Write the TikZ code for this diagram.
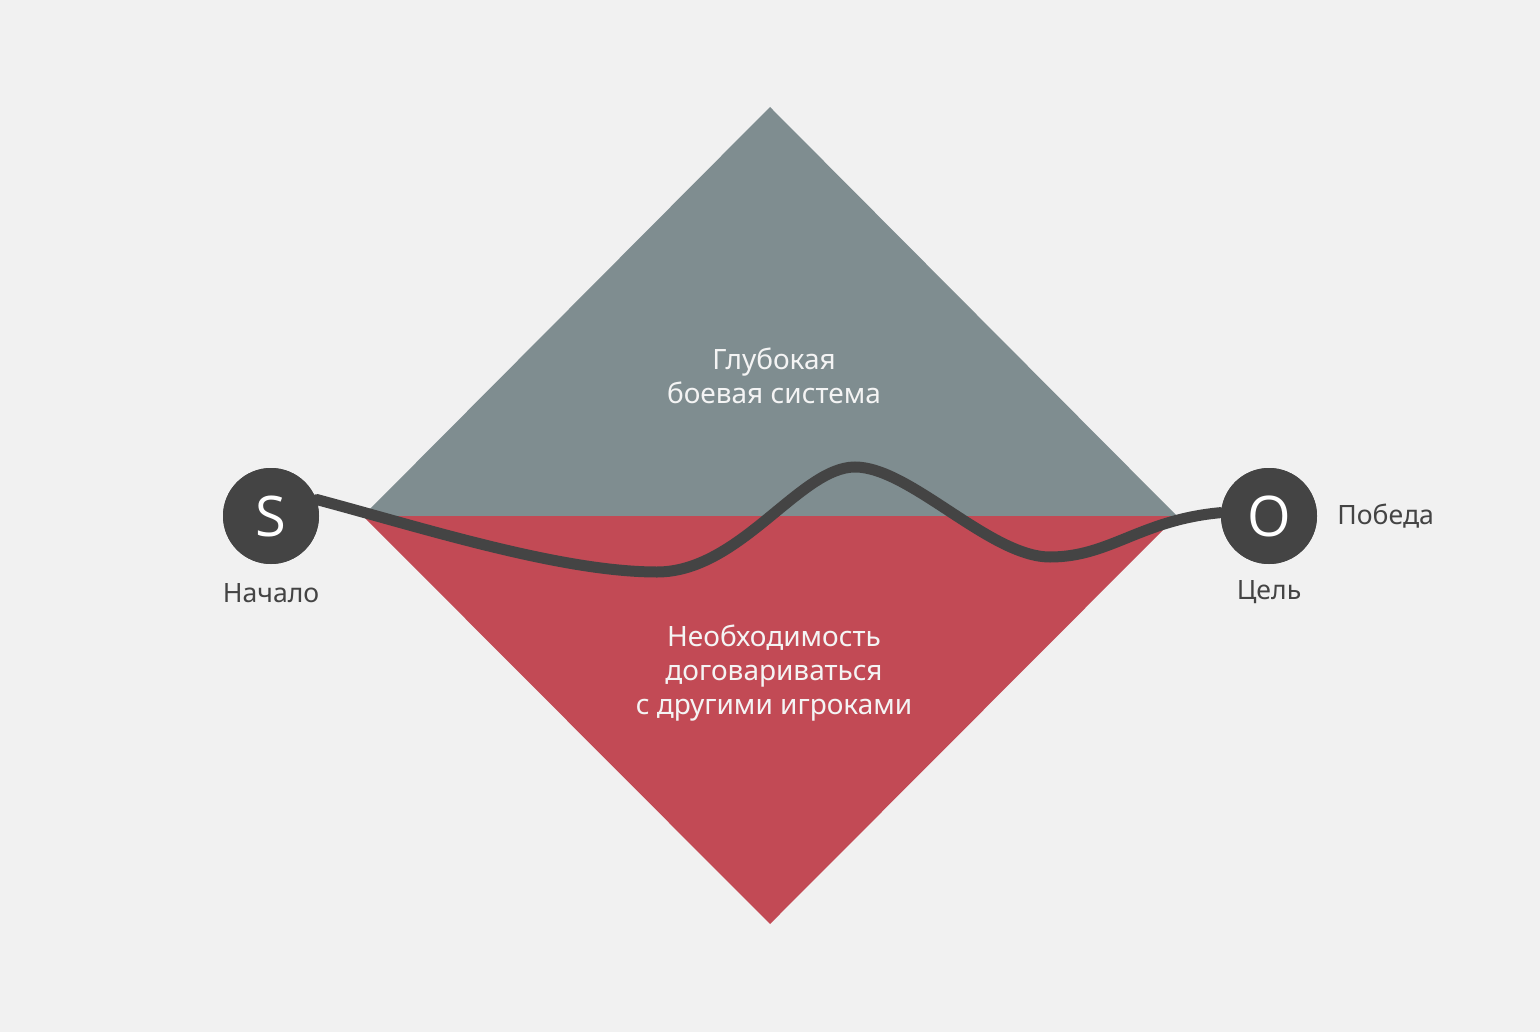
\documentclass[tikz,border=0pt]{standalone}
\usepackage{fontspec}
\setmainfont{Noto Sans}
\newfontfamily\letterfont{Open Sans}
\definecolor{bg}{HTML}{F1F1F1}
\definecolor{topc}{HTML}{7F8D90}
\definecolor{botc}{HTML}{C24A55}
\definecolor{dark}{HTML}{444444}
\definecolor{lighttext}{HTML}{F4F4F4}
\begin{document}
\begin{tikzpicture}[x=0.5pt,y=-0.5pt,
  marker/.style={circle,fill=dark,minimum size=48pt,inner sep=0pt,text=white,font=\letterfont\fontsize{28}{28}\selectfont},
  label/.style={text=dark,font=\fontsize{13.3}{15}\selectfont,inner sep=0pt},
  inner/.style={text=lighttext,font=\fontsize{14}{17}\selectfont,align=center,inner sep=0pt},
  path/.style={draw=dark,line width=5.5pt,line cap=round}]
\fill[bg] (0,0) rectangle (1540,1032);
\useasboundingbox (0,0) rectangle (1540,1032);
\coordinate (T) at (770,107);
\coordinate (L) at (363,516);
\coordinate (R) at (1177,516);
\coordinate (B) at (770,924);
\fill[topc] (L) -- (T) -- (R) -- cycle;
\fill[botc] (L) -- (B) -- (R) -- cycle;
\node[marker] (S) at (271,516) {S};
\node[marker] (O) at (1269,516) {O};
\coordinate (p1) at (657,572);
\coordinate (p2) at (855,467);
\coordinate (p3) at (1050,557);
\draw[path] (S.20) .. controls (420,527) and (560,572) .. (p1)
  .. controls (740,572) and (800,467) .. (p2)
  .. controls (910,467) and (990,557) .. (p3)
  .. controls (1110,557) and (1140,520) .. (O.176);
\node[marker] at (S) {S};
\node[marker] at (O) {O};
\node[label] (nachalo) at (271,593) {Начало};
\node[label] (cel) at (1269,592) {Цель};
\node[label,anchor=west] (pobeda) at (1337,516) {Победа};
\node[inner] (up) at (774,376) {Глубокая\\боевая система};
\node[inner] (down) at (774,673) {Необходимость\\договариваться\\с другими игроками};
\end{tikzpicture}
\end{document}
